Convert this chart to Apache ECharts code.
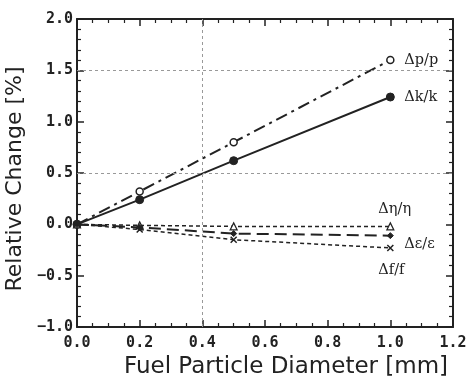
<!DOCTYPE html>
<html><head><meta charset="utf-8">
<script src="https://cdn.jsdelivr.net/npm/echarts@6/dist/echarts.min.js"></script>
<style>html,body{margin:0;padding:0;background:#fff}#c{width:472px;height:376px}</style>
</head><body><div id="c"></div>
<script>
const diameters = [0.0, 0.2, 0.5, 1.0];
const dpp = [0.0, 0.32, 0.80, 1.60];
const dkk = [0.0, 0.24, 0.62, 1.24];
const deta = [0.0, -0.01, -0.02, -0.02];
const deps = [0.0, -0.03, -0.09, -0.11];
const dff = [0.0, -0.05, -0.15, -0.23];
const xTicks = ['0.0','0.2','0.4','0.6','0.8','1.0','1.2'];
const yTicks = ['-1.0','-0.5','0.0','0.5','1.0','1.5','2.0'];

const pairs = arr => diameters.map((d, i) => [d, arr[i]]);
const monoFont = {fontFamily: 'DejaVu Sans Mono', fontSize: 15, color: '#222', fontWeight: 'bold'};
const lblFont = {fontFamily: 'DejaVu Serif', fontSize: 14.5, color: '#222'};

function xAx(pos, showLabel) {
  return {
    type: 'value', min: 0, max: 1.2, interval: 0.2, position: pos,
    axisLine: {show: true, onZero: false, lineStyle: {color: '#222', width: 2}},
    axisTick: {show: true, inside: true, length: 7, lineStyle: {color: '#222', width: 1.5}},
    minorTick: {show: true, splitNumber: 4, length: 4, lineStyle: {color: '#222', width: 1.2}},
    splitLine: {show: false},
    axisLabel: Object.assign({show: showLabel, margin: 9,
      formatter: v => xTicks[Math.round(v / 0.2)]}, monoFont),
    name: showLabel ? 'Fuel Particle Diameter [mm]' : '',
    nameLocation: 'middle', nameGap: 23,
    nameTextStyle: {fontFamily: 'DejaVu Sans', fontSize: 23, color: '#222', padding: [0, 0, 0, 42]}
  };
}
function yAx(pos, showLabel) {
  return {
    type: 'value', min: -1, max: 2, interval: 0.5, position: pos,
    axisLine: {show: true, onZero: false, lineStyle: {color: '#222', width: 2}},
    axisTick: {show: true, inside: true, length: 7, lineStyle: {color: '#222', width: 1.5}},
    minorTick: {show: true, splitNumber: 5, length: 4, lineStyle: {color: '#222', width: 1.2}},
    splitLine: {show: false},
    axisLabel: Object.assign({show: showLabel, margin: 4,
      formatter: v => yTicks[Math.round((v + 1) / 0.5)].replace('-', '\u2212')}, monoFont),
    name: showLabel ? 'Relative Change [%]' : '',
    nameLocation: 'middle', nameGap: 38, nameRotate: 90,
    nameTextStyle: {fontFamily: 'DejaVu Sans', fontSize: 22, color: '#222', padding: [0, 12, 0, 0]}
  };
}

function ser(name, arr, lineType, width, symbol, symSize, itemStyle, labelOffset) {
  return {
    name: name, type: 'line', data: pairs(arr), xAxisIndex: 0, yAxisIndex: 0,
    symbol: symbol, symbolSize: symSize, showAllSymbol: true,
    lineStyle: {color: '#222', width: width, type: lineType},
    itemStyle: itemStyle,
    animation: false, z: 3,
    endLabel: Object.assign({show: true, formatter: name, offset: labelOffset, align: 'left', verticalAlign: 'middle'}, lblFont)
  };
}

const chart = echarts.init(document.getElementById('c'), null, {renderer: 'canvas'});
const series = [
  ser('\u0394p/p', dpp, [12, 5, 3, 5], 2, 'circle', 7, {color: '#fff', borderColor: '#222', borderWidth: 1.5}, [6, 0]),
  ser('\u0394k/k', dkk, 'solid', 2, 'circle', 8, {color: '#222', borderColor: '#222'}, [6, 0]),
  ser('\u0394\u03b7/\u03b7', deta, [4, 3], 1.5, 'triangle', 7, {color: '#fff', borderColor: '#222', borderWidth: 1.2}, [-20, -17]),
  ser('\u0394\u03b5/\u03b5', deps, [12, 6], 2, 'diamond', 6, {color: '#222', borderColor: '#222'}, [6, 9]),
  ser('\u0394f/f', dff, [4, 3], 1.5, 'path://M0,0L10,10M10,0L0,10', 6, {color: 'none', borderColor: '#222', borderWidth: 1.5}, [-20, 22])
];
series[1].markLine = {
  silent: true, symbol: 'none', label: {show: false}, animation: false,
  lineStyle: {color: '#999', width: 1, type: [3, 3]},
  data: [{yAxis: 0.5}, {yAxis: 1.5}, {xAxis: 0.4}]
};
chart.setOption({
  animation: false,
  backgroundColor: '#fff',
  grid: {left: 77, right: 19, top: 19, bottom: 49, containLabel: false, outerBoundsMode: 'none'},
  xAxis: [xAx('bottom', true), xAx('top', false)],
  yAxis: [yAx('left', true), yAx('right', false)],
  series: series
});
</script></body></html>
